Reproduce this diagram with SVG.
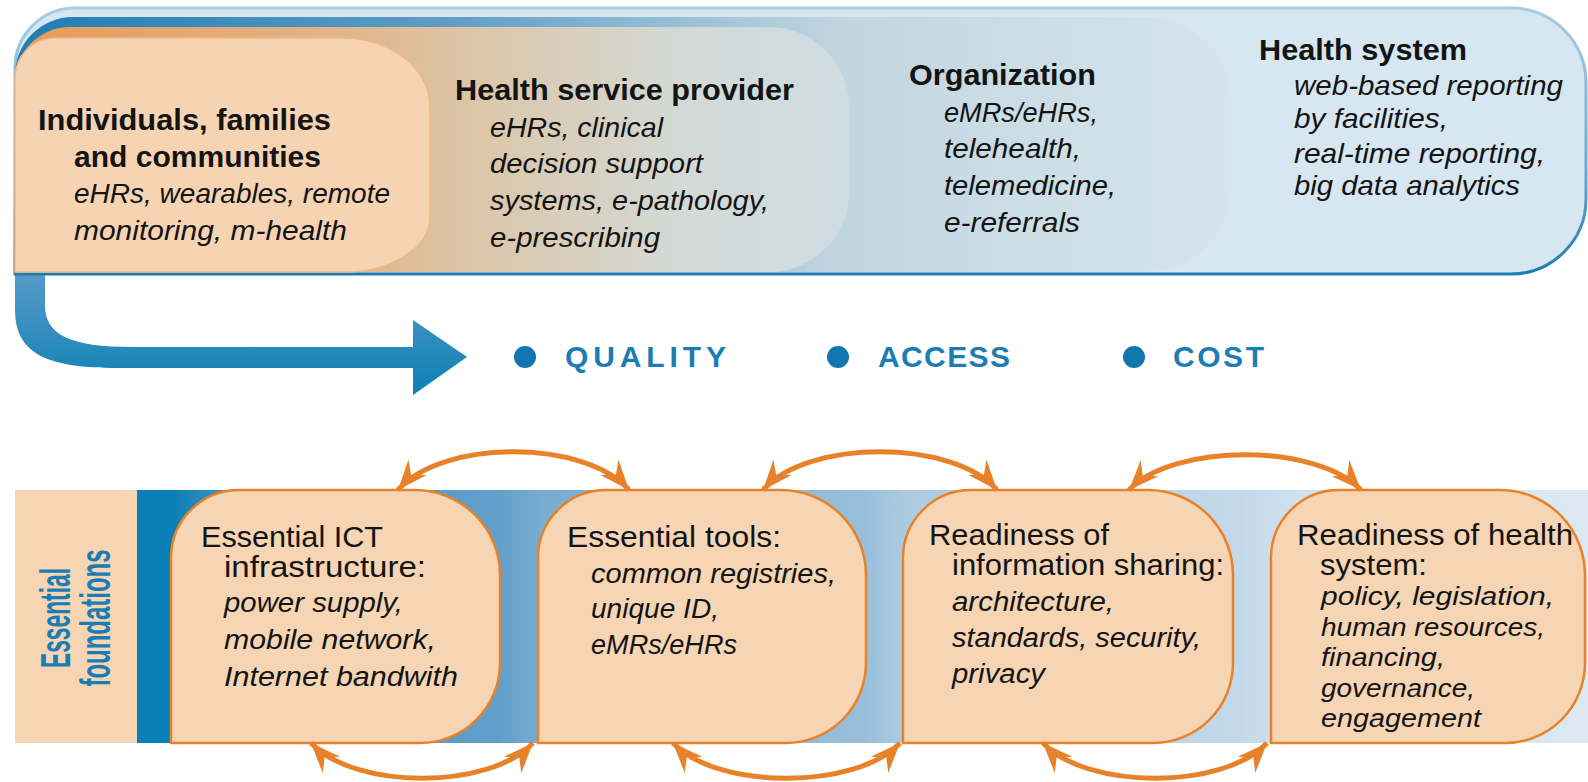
<svg xmlns="http://www.w3.org/2000/svg" width="1588" height="782" viewBox="0 0 1588 782">
<style>
text{font-family:"Liberation Sans",Arial,sans-serif;fill:#141414}
.hd{font-size:30px;font-weight:bold}
.it{font-size:28px;font-style:italic}
.tt{font-size:30px}
.li{font-size:27px;font-style:italic}
.l4{font-size:26px;font-style:italic}
.kw{font-size:30px;font-weight:bold;fill:#1B7DB3}
.ef{font-size:42px;font-weight:bold;fill:#1B7DB3}
.box{fill:#F6D5B4;stroke:#E8822A;stroke-width:2.5}
.arc{fill:none;stroke:#E8822A;stroke-width:5;marker-start:url(#ah);marker-end:url(#ah)}
</style>
<defs>
<linearGradient id="hsStroke" x1="0" y1="0" x2="0" y2="1"><stop offset="0" stop-color="#A9CDE3"/><stop offset="0.6" stop-color="#6FA9CF"/><stop offset="1" stop-color="#1B7CB2"/></linearGradient>
<linearGradient id="orgFill" gradientUnits="userSpaceOnUse" x1="15" y1="0" x2="1231" y2="0"><stop offset="0" stop-color="#1F7DB4"/><stop offset="0.35" stop-color="#5E9CC6"/><stop offset="0.68" stop-color="#C2D6E0"/><stop offset="1" stop-color="#D6E5EC"/></linearGradient>
<linearGradient id="hspFill" gradientUnits="userSpaceOnUse" x1="15" y1="0" x2="849" y2="0"><stop offset="0" stop-color="#E89B58"/><stop offset="0.35" stop-color="#E2B183"/><stop offset="0.55" stop-color="#DCC6A8"/><stop offset="0.8" stop-color="#D3D9D6"/><stop offset="1" stop-color="#CEDDE3"/></linearGradient>
<linearGradient id="arrFill" x1="0" y1="0" x2="0" y2="1"><stop offset="0" stop-color="#5B9BC8"/><stop offset="1" stop-color="#0A80B5"/></linearGradient>
<linearGradient id="bandFill" gradientUnits="userSpaceOnUse" x1="137" y1="0" x2="1588" y2="0"><stop offset="0" stop-color="#0A7FB5"/><stop offset="0.025" stop-color="#0A7FB5"/><stop offset="0.06" stop-color="#3F90C2"/><stop offset="0.25" stop-color="#62A0CA"/><stop offset="0.28" stop-color="#78ADD0"/><stop offset="0.5" stop-color="#98BEDA"/><stop offset="0.53" stop-color="#ACCBE1"/><stop offset="0.76" stop-color="#C3D9E9"/><stop offset="0.8" stop-color="#CFE1EE"/><stop offset="1" stop-color="#DCE9F2"/></linearGradient>
<marker id="ah" viewBox="-32 -14 34 28" refX="0" refY="0" markerWidth="34" markerHeight="28" markerUnits="userSpaceOnUse" orient="auto-start-reverse"><path d="M0,0 L-30,-12 L-20,0 L-30,12 Z" fill="#E8822A"/></marker>
</defs>

<g id="flow-arrow"><path d="M15,270 V310 C15,355 50,368 117,368 H413 V395 L467,357 L413,320 V347 H133 C70,347 45,335 45,305 V270 Z" fill="url(#arrFill)"/></g>

<g id="health-system">
<path d="M15,274 V68 A60,60 0 0 1 75,8 H1511 A75,75 0 0 1 1586,83 V199 A75,75 0 0 1 1511,274 Z" fill="#D6E7F1" stroke="url(#hsStroke)" stroke-width="3"/>
<text class="hd" x="1259" y="60" textLength="208" lengthAdjust="spacingAndGlyphs">Health system</text>
<text class="it" x="1294" y="95" textLength="269" lengthAdjust="spacingAndGlyphs">web-based reporting</text>
<text class="it" x="1294" y="128" textLength="154" lengthAdjust="spacingAndGlyphs">by facilities,</text>
<text class="it" x="1294" y="163" textLength="251" lengthAdjust="spacingAndGlyphs">real-time reporting,</text>
<text class="it" x="1294" y="195" textLength="226" lengthAdjust="spacingAndGlyphs">big data analytics</text>
</g>
<g id="organization">
<path d="M15,272 V75 A58,58 0 0 1 73,17 H1146 A85,85 0 0 1 1231,102 V187 A85,85 0 0 1 1146,272 Z" fill="url(#orgFill)"/>
<text class="hd" x="909" y="85" textLength="187" lengthAdjust="spacingAndGlyphs">Organization</text>
<text class="it" x="944" y="122" textLength="154" lengthAdjust="spacingAndGlyphs">eMRs/eHRs,</text>
<text class="it" x="944" y="158" textLength="137" lengthAdjust="spacingAndGlyphs">telehealth,</text>
<text class="it" x="944" y="195" textLength="172" lengthAdjust="spacingAndGlyphs">telemedicine,</text>
<text class="it" x="944" y="232" textLength="136" lengthAdjust="spacingAndGlyphs">e-referrals</text>
</g>
<g id="health-service-provider">
<path d="M15,272 V82 A55,55 0 0 1 70,27 H769 A80,80 0 0 1 849,107 V192 A80,80 0 0 1 769,272 Z" fill="url(#hspFill)"/>
<text class="hd" x="455" y="100" textLength="339" lengthAdjust="spacingAndGlyphs">Health service provider</text>
<text class="it" x="490" y="137" textLength="173" lengthAdjust="spacingAndGlyphs">eHRs, clinical</text>
<text class="it" x="490" y="173" textLength="213" lengthAdjust="spacingAndGlyphs">decision support</text>
<text class="it" x="490" y="210" textLength="279" lengthAdjust="spacingAndGlyphs">systems, e-pathology,</text>
<text class="it" x="490" y="247" textLength="170" lengthAdjust="spacingAndGlyphs">e-prescribing</text>
</g>
<g id="individuals">
<path d="M15,272 V78 A40,40 0 0 1 55,38 H342 A88,68 0 0 1 430,106 V217 A85,55 0 0 1 345,272 Z" fill="#F6D4B3" stroke="#EDB98A" stroke-width="1.5"/>
<text class="hd" x="38" y="130" textLength="293" lengthAdjust="spacingAndGlyphs">Individuals, families</text>
<text class="hd" x="74" y="167" textLength="247" lengthAdjust="spacingAndGlyphs">and communities</text>
<text class="it" x="74" y="203" textLength="316" lengthAdjust="spacingAndGlyphs">eHRs, wearables, remote</text>
<text class="it" x="74" y="240" textLength="273" lengthAdjust="spacingAndGlyphs">monitoring, m-health</text>
</g>

<g id="outcomes">
<circle cx="525" cy="357" r="11" fill="#1277AE"/>
<text class="kw" x="565" y="367" textLength="161" lengthAdjust="spacing">QUALITY</text>
<circle cx="838" cy="357" r="11" fill="#1277AE"/>
<text class="kw" x="878" y="367" textLength="132" lengthAdjust="spacing">ACCESS</text>
<circle cx="1134" cy="357" r="11" fill="#1277AE"/>
<text class="kw" x="1173" y="367" textLength="91" lengthAdjust="spacing">COST</text>
</g>

<g id="essential-foundations">
<rect x="15" y="490" width="122" height="253" fill="#F6D5B4"/>
<rect x="137" y="490" width="1451" height="253" fill="url(#bandFill)"/>
<text class="ef" transform="translate(70,618) rotate(-90)" text-anchor="middle" textLength="100" lengthAdjust="spacingAndGlyphs">Essential</text>
<text class="ef" transform="translate(110,618) rotate(-90)" text-anchor="middle" textLength="137" lengthAdjust="spacingAndGlyphs">foundations</text>
</g>

<g id="ict-infrastructure">
<path class="box" d="M171,743 V558 A68,68 0 0 1 239,490 H415 A85,85 0 0 1 500,575 V663 A80,80 0 0 1 420,743 Z"/>
<text class="tt" x="201" y="547" textLength="182" lengthAdjust="spacingAndGlyphs">Essential ICT</text>
<text class="tt" x="224" y="577" textLength="202" lengthAdjust="spacingAndGlyphs">infrastructure:</text>
<text class="li" x="224" y="612" textLength="179" lengthAdjust="spacingAndGlyphs">power supply,</text>
<text class="li" x="224" y="649" textLength="212" lengthAdjust="spacingAndGlyphs">mobile network,</text>
<text class="li" x="224" y="686" textLength="234" lengthAdjust="spacingAndGlyphs">Internet bandwith</text>
</g>
<g id="essential-tools">
<path class="box" d="M538,743 V558 A68,68 0 0 1 606,490 H781 A85,85 0 0 1 866,575 V663 A80,80 0 0 1 786,743 Z"/>
<text class="tt" x="567" y="547" textLength="214" lengthAdjust="spacingAndGlyphs">Essential tools:</text>
<text class="li" x="591" y="583" textLength="245" lengthAdjust="spacingAndGlyphs">common registries,</text>
<text class="li" x="591" y="618" textLength="128" lengthAdjust="spacingAndGlyphs">unique ID,</text>
<text class="li" x="591" y="654" textLength="146" lengthAdjust="spacingAndGlyphs">eMRs/eHRs</text>
</g>
<g id="information-sharing">
<path class="box" d="M903,743 V558 A68,68 0 0 1 971,490 H1148 A85,85 0 0 1 1233,575 V663 A80,80 0 0 1 1153,743 Z"/>
<text class="tt" x="929" y="545" textLength="180" lengthAdjust="spacingAndGlyphs">Readiness of</text>
<text class="tt" x="952" y="575" textLength="272" lengthAdjust="spacingAndGlyphs">information sharing:</text>
<text class="li" x="952" y="611" textLength="162" lengthAdjust="spacingAndGlyphs">architecture,</text>
<text class="li" x="952" y="647" textLength="249" lengthAdjust="spacingAndGlyphs">standards, security,</text>
<text class="li" x="952" y="683" textLength="93" lengthAdjust="spacingAndGlyphs">privacy</text>
</g>
<g id="health-system-readiness">
<path class="box" d="M1271,743 V558 A68,68 0 0 1 1339,490 H1500 A85,85 0 0 1 1585,575 V663 A80,80 0 0 1 1505,743 Z"/>
<text class="tt" x="1297" y="545" textLength="276" lengthAdjust="spacingAndGlyphs">Readiness of health</text>
<text class="tt" x="1320" y="575" textLength="107" lengthAdjust="spacingAndGlyphs">system:</text>
<text class="l4" x="1321" y="605" textLength="233" lengthAdjust="spacingAndGlyphs">policy, legislation,</text>
<text class="l4" x="1321" y="636" textLength="224" lengthAdjust="spacingAndGlyphs">human resources,</text>
<text class="l4" x="1321" y="666" textLength="124" lengthAdjust="spacingAndGlyphs">financing,</text>
<text class="l4" x="1321" y="697" textLength="154" lengthAdjust="spacingAndGlyphs">governance,</text>
<text class="l4" x="1321" y="727" textLength="160" lengthAdjust="spacingAndGlyphs">engagement</text>
</g>

<g id="connectors">
<path class="arc" d="M398,490 C442,439 585,439 629,490"/>
<path class="arc" d="M763,490 C807,439 953,439 997,490"/>
<path class="arc" d="M1129,490 C1173,443 1317,443 1361,490"/>
<path class="arc" d="M311,743 C355,790 489,790 533,743"/>
<path class="arc" d="M673,743 C717,790 856,790 900,743"/>
<path class="arc" d="M1043,743 C1087,790 1223,790 1267,743"/>
</g>
</svg>
